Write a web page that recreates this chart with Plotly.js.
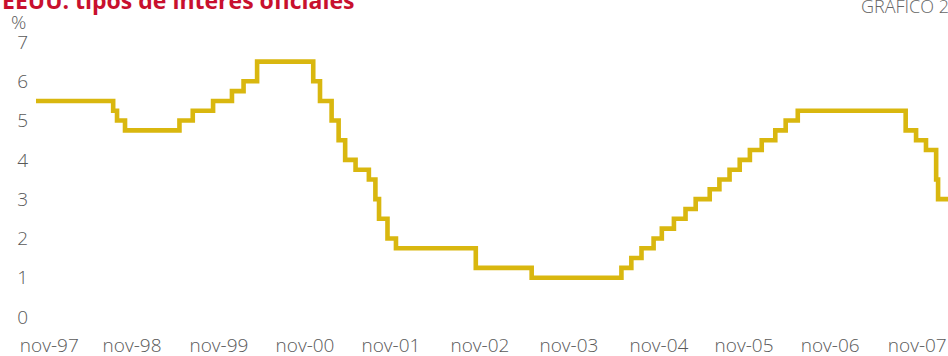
<!DOCTYPE html>
<html>
<head>
<meta charset="utf-8">
<script src="https://cdn.plot.ly/plotly-3.0.1.min.js"></script>
<style>
  html, body { margin: 0; padding: 0; background: #fff; }
  #chart { width: 948px; height: 356px; }
</style>
</head>
<body>
<div id="chart"></div>
<script>
// Fed funds target: dates at which the rate changed, and the new level (%)
const changeDates = [
  '1997-11-14', '1998-09-29', '1998-10-15', '1998-11-17', '1999-06-30',
  '1999-08-24', '1999-11-16', '2000-02-02', '2000-03-21', '2000-05-16',
  '2001-01-03', '2001-01-31', '2001-03-20', '2001-04-18', '2001-05-15',
  '2001-06-27', '2001-08-21', '2001-09-17', '2001-10-02', '2001-11-06',
  '2001-12-11', '2002-11-06', '2003-06-25', '2004-06-30', '2004-08-10',
  '2004-09-21', '2004-11-10', '2004-12-14', '2005-02-02', '2005-03-22',
  '2005-05-03', '2005-06-30', '2005-08-09', '2005-09-20', '2005-11-01',
  '2005-12-13', '2006-01-31', '2006-03-28', '2006-05-10', '2006-06-29',
  '2007-09-18', '2007-10-31', '2007-12-11', '2008-01-22', '2008-01-30',
  '2008-03-11'
];
const rateLevels = [
  5.50, 5.25, 5.00, 4.75, 5.00,
  5.25, 5.50, 5.75, 6.00, 6.50,
  6.00, 5.50, 5.00, 4.50, 4.00,
  3.75, 3.50, 3.00, 2.50, 2.00,
  1.75, 1.25, 1.00, 1.25, 1.50,
  1.75, 2.00, 2.25, 2.50, 2.75,
  3.00, 3.25, 3.50, 3.75, 4.00,
  4.25, 4.50, 4.75, 5.00, 5.25,
  4.75, 4.50, 4.25, 3.50, 3.00,
  3.00
];

// Axis labels (one per year, placed near each November)
const tickDates = [
  '1998-01-08', '1998-12-16', '1999-12-10', '2000-11-30', '2001-11-20',
  '2002-11-23', '2003-11-26', '2004-12-02', '2005-11-19', '2006-11-10',
  '2007-11-05'
];
const tickLabels = ['nov-97', 'nov-98', 'nov-99', 'nov-00', 'nov-01', 'nov-02',
                    'nov-03', 'nov-04', 'nov-05', 'nov-06', 'nov-07'];
const yTicks = [0, 1, 2, 3, 4, 5, 6, 7];

const fontFamily = '"Open Sans", "Noto Sans", sans-serif';
const labelFont = { family: fontFamily, size: 19, color: '#595959', weight: 300 };

const trace = {
  x: changeDates,
  y: rateLevels,
  type: 'scatter',
  mode: 'lines',
  line: { shape: 'hv', color: '#d9b70f', width: 4.6 },
  hoverinfo: 'x+y'
};

const layout = {
  width: 948,
  height: 356,
  margin: { l: 36, r: 0, t: 42, b: 39 },
  paper_bgcolor: '#ffffff',
  plot_bgcolor: '#ffffff',
  showlegend: false,
  xaxis: {
    type: 'date',
    range: [changeDates[0], changeDates[changeDates.length - 1]],
    tickvals: tickDates,
    ticktext: tickLabels,
    showgrid: false,
    zeroline: false,
    showline: false,
    ticks: '',
    ticklabelstandoff: 15,
    ticklabeloverflow: 'allow',
    tickfont: labelFont,
    fixedrange: true
  },
  yaxis: {
    range: [0, 7],
    tickvals: yTicks,
    ticktext: yTicks.map(String),
    showgrid: false,
    zeroline: false,
    showline: false,
    ticks: '',
    ticklabelstandoff: 7,
    tickfont: labelFont,
    fixedrange: true
  },
  annotations: [
    {
      text: '<b>EEUU: tipos de interés oficiales</b>',
      xref: 'paper', yref: 'paper',
      x: -0.0395, y: 1.152,
      xanchor: 'left', yanchor: 'middle',
      showarrow: false,
      font: { family: fontFamily, size: 23, color: '#c8102e' }
    },
    {
      text: 'GRÁFICO 2',
      xref: 'paper', yref: 'paper',
      x: (859 - 36) / 912, y: 1.13,
      xanchor: 'left', yanchor: 'middle',
      showarrow: false,
      font: { family: fontFamily, size: 18, color: '#666666', weight: 300 }
    },
    {
      text: '%',
      xref: 'paper', yref: 'paper',
      x: (28 - 36) / 912, y: (317 - 22) / 275,
      xanchor: 'right', yanchor: 'middle',
      showarrow: false,
      font: labelFont
    }
  ]
};

Plotly.newPlot('chart', [trace], layout, { displayModeBar: false, staticPlot: true });
</script>
</body>
</html>
